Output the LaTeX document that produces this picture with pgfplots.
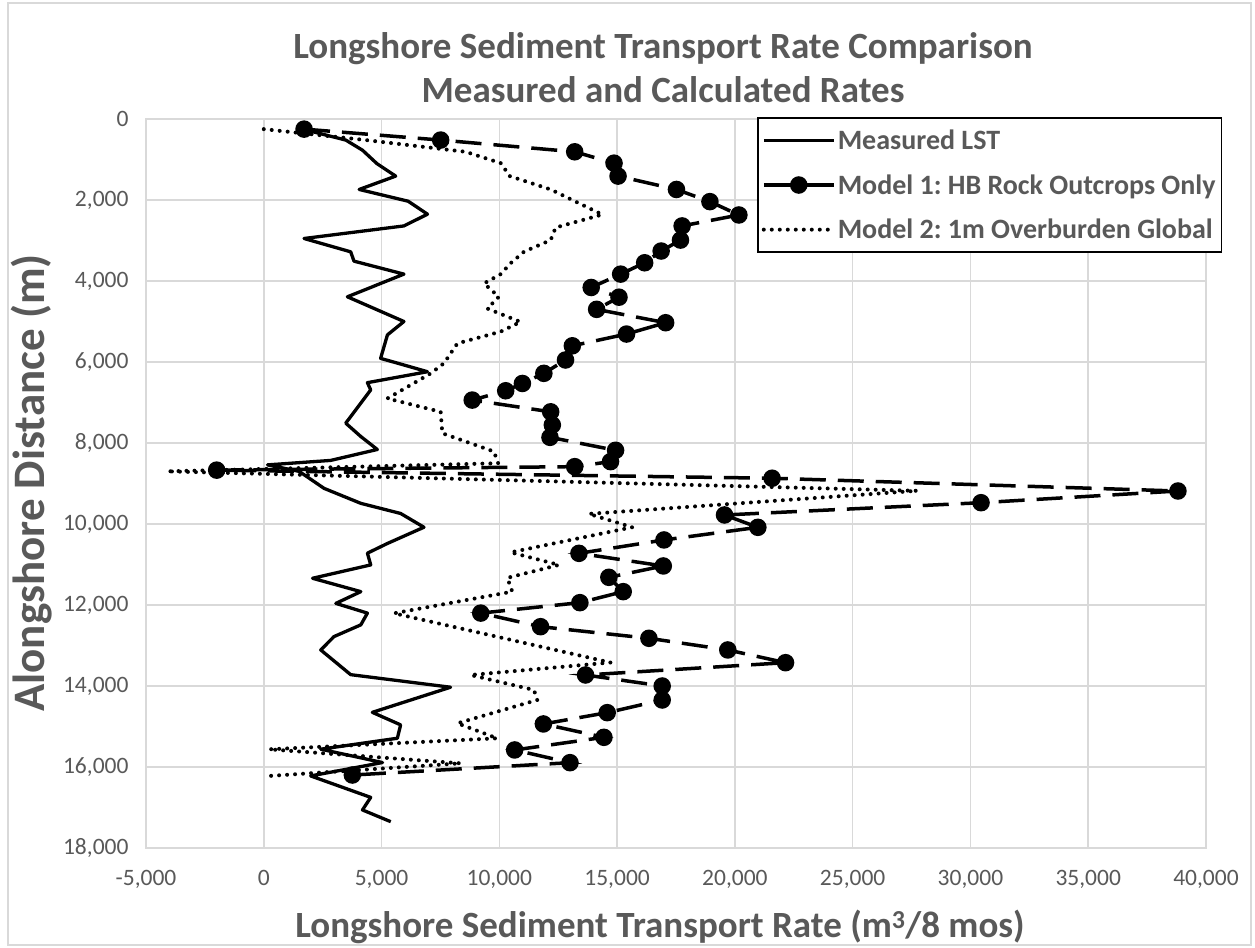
\documentclass[border=0pt]{standalone}
\usepackage{fontspec}
\setmainfont{Carlito}
\usepackage{pgfplots}
\pgfplotsset{compat=1.18}
\definecolor{txtgray}{HTML}{595959}
\definecolor{gridgray}{HTML}{D9D9D9}
\frenchspacing
\begin{document}
\begin{tikzpicture}
\useasboundingbox (-146bp,-100bp) rectangle (1109bp,848bp);
\fill[white] (-146bp,-100bp) rectangle (1109bp,848bp);
\draw[gridgray, line width=1.5bp] (-138bp,-97bp) rectangle (1105bp,845bp);
\begin{axis}[
  scale only axis, width=1060bp, height=729bp,
  xmin=-5000, xmax=40000, ymin=0, ymax=18000, y dir=reverse,
  xtick={-5000,0,5000,10000,15000,20000,25000,30000,35000,40000},
  ytick={0,2000,4000,6000,8000,10000,12000,14000,16000,18000},
  grid=major, major grid style={gridgray, line width=1.5bp},
  axis line style={gridgray, line width=1.5bp},
  major tick length=0pt,
  scaled x ticks=false, scaled y ticks=false,
  /pgf/number format/1000 sep={,},
  /pgf/number format/assume math mode=true,
  ticklabel style={font=\fontsize{23.5bp}{28bp}\selectfont, text=txtgray},
  xticklabel style={yshift=-19bp},
  yticklabel style={xshift=-14bp},
  legend style={at={(axis description cs:0.5764,1.0027)}, anchor=north west,
    draw=black, line width=1.6bp, fill=white,
    font=\bfseries\fontsize{28bp}{33bp}\selectfont, text=txtgray,
    inner xsep=4bp, inner ysep=10bp, row sep=19.5bp},
  legend cell align=left,
  legend image code/.code={\draw[mark repeat=2,mark phase=2,#1] plot coordinates {(0bp,0bp) (35bp,0bp) (70bp,0bp)};},
]
\addplot[black, line width=3.3bp, line join=round] coordinates {
(1780,270) (3480,520) (4190,770) (4800,1100) (5600,1410) (4050,1740) (6130,2030)
(6950,2350) (5950,2640) (1710,2950) (3690,3280) (3830,3510) (5950,3830) (3550,4390)
(5950,5000) (5250,5330) (4960,5910) (6950,6240) (4400,6510) (4540,6690) (3480,7510)
(4120,7840) (4820,8160) (2840,8430) (160,8540) (1500,8700) (2560,9120) (4120,9490)
(5810,9740) (6800,10080) (5250,10480) (4400,10720) (4540,11010) (2070,11340)
(4120,11670) (3060,11960) (4400,12200) (4120,12490) (2980,12780) (2420,13110)
(3690,13720) (7930,14030) (4610,14650) (5810,14960) (5670,15290) (2420,15560)
(5040,15890) (1990,16220) (4540,16750) (4190,17060) (5390,17350)
};
\addlegendentry{Measured LST}
\addplot[black, line width=3.5bp, dash pattern=on 26bp off 12bp, mark=*, mark size=7bp,
  mark options={solid, fill=black}, legend image post style={solid}] coordinates {
(1710,250) (7510,520) (13200,810) (14870,1090) (15040,1410) (17520,1740) (18940,2040)
(20170,2370) (17760,2640) (17690,2990) (16870,3260) (16170,3550) (15150,3830)
(13900,4160) (15080,4400) (14130,4700) (17060,5030) (15400,5310) (13100,5600)
(12810,5950) (11890,6280) (10980,6530) (10270,6710) (8850,6940) (12180,7230)
(12250,7555) (12150,7860) (14935,8180) (14720,8460) (13200,8584) (-2000,8670)
(21580,8870) (38810,9185) (30450,9474) (19560,9777) (20975,10082) (16990,10394)
(13380,10724) (16960,11036) (14650,11316) (15260,11670) (13420,11942) (9210,12200)
(11750,12535) (16350,12822) (19700,13110) (22150,13424) (13660,13728) (16915,14000)
(16915,14345) (14580,14658) (11870,14937) (14440,15267) (10650,15579) (13000,15893)
(3760,16198)
};
\addlegendentry{Model 1: HB Rock Outcrops Only}
\addplot[black, line width=4bp, dash pattern=on 0bp off 8bp, line cap=round] coordinates {
(0,250) (4330,520) (8570,810) (10060,1090) (10440,1410) (12180,1740) (13240,2040)
(14370,2360) (12390,2680) (12180,2990) (11050,3276) (10480,3560) (10060,3830)
(9350,4060) (9980,4390) (9490,4680) (10900,5010) (10060,5250) (8220,5540) (7650,6030)
(7090,6280) (5250,6900) (7510,7230) (7580,7760) (9770,8210) (9950,8500) (-4100,8700)
(27735,9180) (13800,9750) (15640,10080) (10480,10700) (12530,11010) (10340,11330)
(10550,11670) (5530,12205) (14720,13420) (8780,13728) (11470,14098) (11610,14345)
(8220,14921) (9910,15291) (230,15563) (8360,15909) (230,16221)
};
\addlegendentry{Model 2: 1m Overburden Global}
\end{axis}
\node[text=txtgray, font=\bfseries\fontsize{37bp}{44bp}\selectfont, align=center] at (517bp,780bp)
  {Longshore Sediment Transport Rate Comparison\\Measured and Calculated Rates};
\node[text=txtgray, font=\bfseries\fontsize{37bp}{44bp}\selectfont] at (514bp,-79bp)
  {Longshore Sediment Transport Rate (m\textsuperscript{3}/8 mos)};
\node[text=txtgray, font=\bfseries\fontsize{45bp}{52bp}\selectfont, rotate=90] at (-114bp,365bp)
  {Alongshore Distance (m)};
\end{tikzpicture}
\end{document}
